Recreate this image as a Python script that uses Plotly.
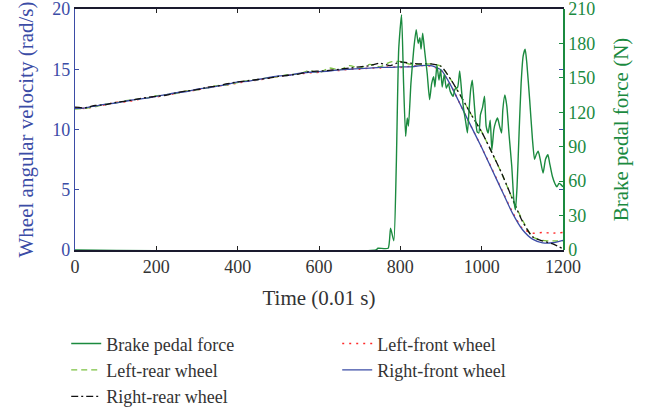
import plotly.graph_objects as go

# ---- data ----
t_wheel = list(range(0, 1201, 25))

right_front = [11.75, 11.8, 11.95, 12.1, 12.2, 12.35, 12.5, 12.6, 12.75, 12.9, 13.05, 13.15, 13.35, 13.45,
               13.6, 13.75, 13.95, 14.0, 14.15, 14.3, 14.45, 14.5, 14.65, 14.75, 14.8, 14.85, 14.95, 15.0,
               15.05, 15.1, 15.15, 15.15, 15.2, 15.2, 15.3, 15.3, 14.95, 13.6, 11.9, 10.2, 8.5, 6.7, 4.9,
               3.1, 1.7, 0.9, 0.6, 0.6, 0.8]
left_front = [11.8, 11.75, 11.9, 12.05, 12.25, 12.3, 12.45, 12.65, 12.7, 12.85, 13.0, 13.2, 13.25, 13.5,
              13.6, 13.7, 13.85, 14.0, 14.1, 14.25, 14.4, 14.5, 14.6, 14.7, 14.75, 14.9, 14.9, 15.0,
              15.0, 15.1, 15.1, 15.2, 15.15, 15.25, 15.3, 15.25, 14.9, 13.6, 11.9, 10.2, 8.5, 6.75, 4.95,
              3.2, 1.8, 1.4, 1.45, 1.4, 1.45]
right_rear = [11.85, 11.8, 12.0, 12.05, 12.25, 12.35, 12.5, 12.65, 12.75, 12.85, 13.05, 13.2, 13.3, 13.5,
              13.6, 13.8, 13.95, 14.05, 14.15, 14.25, 14.4, 14.5, 14.6, 14.8, 14.85, 14.9, 15.0, 15.1,
              15.2, 15.3, 15.5, 15.3, 15.6, 15.5, 15.45, 15.45, 15.25, 14.1, 12.7, 11.2, 9.8, 8.1, 6.3,
              4.3, 2.4, 1.1, 0.75, 0.5, 0.1]
left_rear = [11.7, 11.75, 11.9, 12.1, 12.2, 12.4, 12.5, 12.6, 12.8, 12.9, 13.0, 13.2, 13.3, 13.45,
             13.65, 13.7, 13.9, 14.05, 14.15, 14.3, 14.4, 14.55, 14.6, 14.9, 14.7, 15.1, 14.95, 15.3,
             15.1, 15.4, 15.2, 15.6, 15.65, 15.4, 15.4, 15.45, 15.25, 14.1, 12.7, 11.2, 9.8, 8.1, 6.3,
             4.3, 2.5, 1.1, 0.8, 0.75, 0.75]

t_force = [0, 740, 745, 770, 776, 784, 790, 796, 803, 808, 813, 817, 820, 826, 833, 839, 844, 848, 851,
           855, 859, 866, 872, 877, 882, 885, 890, 895, 899, 903, 908, 913, 918, 923, 930, 934, 941,
           946, 951, 956, 961, 965, 969, 973, 977, 981, 985, 989, 993, 997, 1002, 1007, 1011, 1016,
           1021, 1025, 1030, 1034, 1039, 1044, 1049, 1052, 1057, 1062, 1067, 1074, 1079, 1083, 1087,
           1092, 1097, 1102, 1107, 1111, 1118, 1125, 1130, 1134, 1139, 1144, 1151, 1157, 1163, 1167,
           1174, 1180, 1185, 1190, 1195, 1200]
brake_force = [0, 0, 1.5, 1.5, 19, 8, 73, 175, 205, 145, 99, 115, 108, 145, 175, 192, 180, 185, 175,
               189, 176, 154, 131, 145, 151, 142, 161, 148, 157, 142, 153, 141, 145, 138, 134, 140, 142,
               156, 137, 122, 111, 102, 122, 140, 148, 131, 113, 103, 102, 118, 124, 134, 108, 102,
               113, 87, 105, 111, 115, 108, 102, 122, 135, 125, 102, 73, 44, 35, 55, 102, 145, 169,
               175, 163, 131, 96, 79, 83, 86, 79, 67, 79, 83, 76, 64, 58, 55, 58, 57, 55]

x_ticks = [0, 200, 400, 600, 800, 1000, 1200]
y_ticks = [0, 5, 10, 15, 20]
y2_ticks = [0, 30, 60, 90, 120, 150, 180, 210]

BLUE = "#3b4ca6"
GREEN = "#1b8a3f"
TXT = "#333333"
FONT = "Liberation Serif"
TICK_SIZE = 18
TITLE_SIZE = 21
LEGEND_SIZE = 18

fig = go.Figure()
fig.add_trace(go.Scatter(x=t_wheel, y=left_front, name="Left-front wheel", mode="lines", legendrank=2,
                         line=dict(color="#ff2a2a", width=1.4, dash="2px,5px", shape="spline", smoothing=0.6)))
fig.add_trace(go.Scatter(x=t_wheel, y=left_rear, name="Left-rear wheel", mode="lines", legendrank=3,
                         line=dict(color="#7cc242", width=1.3, dash="6px,4px", shape="spline", smoothing=0.6)))
fig.add_trace(go.Scatter(x=t_wheel, y=right_front, name="Right-front wheel", mode="lines", legendrank=4,
                         line=dict(color=BLUE, width=1.3, shape="spline", smoothing=0.6)))
fig.add_trace(go.Scatter(x=t_wheel, y=right_rear, name="Right-rear wheel", mode="lines", legendrank=5,
                         line=dict(color="#111111", width=1.3, dash="7px,3px,2px,3px", shape="spline", smoothing=0.6)))
fig.add_trace(go.Scatter(x=t_force, y=brake_force, name="Brake pedal force", yaxis="y2", legendrank=1,
                         mode="lines", line=dict(color=GREEN, width=1.4, shape="spline", smoothing=0.5)))

fig.update_layout(
    width=658, height=415,
    margin=dict(l=75, r=95, t=9, b=165, autoexpand=False),
    paper_bgcolor="white", plot_bgcolor="white",
    font=dict(family=FONT, size=TICK_SIZE, color=TXT),
    showlegend=True,
    legend=dict(orientation="h", x=-0.018, y=-0.3125, xanchor="left", yanchor="top",
                entrywidth=226, entrywidthmode="pixels",
                font=dict(family=FONT, size=LEGEND_SIZE, color=TXT),
                bgcolor="rgba(0,0,0,0)", itemwidth=30),
    xaxis=dict(range=[0, 1200], tickvals=x_ticks, ticks="inside", ticklen=4, tickcolor="#222",
               showline=True, linecolor="#1a1a2e", linewidth=1.5, mirror="ticks", showgrid=False,
               zeroline=False, layer="below traces", ticklabeloverflow="allow",
               title=dict(text="Time (0.01 s)", font=dict(size=TITLE_SIZE, color=TXT), standoff=14),
               tickfont=dict(size=TICK_SIZE, color=TXT)),
    yaxis=dict(range=[0, 20], tickvals=y_ticks, ticks="inside", ticklen=4, tickcolor=BLUE,
               showline=True, linecolor=BLUE, linewidth=1.2, mirror="ticks", showgrid=False,
               zeroline=False, layer="below traces", ticklabeloverflow="allow",
               title=dict(text="Wheel angular velocity (rad/s)", font=dict(size=TITLE_SIZE, color=BLUE), standoff=12),
               tickfont=dict(size=TICK_SIZE, color=BLUE)),
    yaxis2=dict(range=[0, 210], tickvals=y2_ticks, ticks="inside", ticklen=4, tickcolor=GREEN,
                overlaying="y", side="right", showline=True, linecolor=GREEN, linewidth=1.5,
                showgrid=False, zeroline=False, ticklabeloverflow="allow",
                title=dict(text="Brake pedal force (N)", font=dict(size=TITLE_SIZE, color=GREEN), standoff=19),
                tickfont=dict(size=TICK_SIZE, color=GREEN)),
)

fig.write_html("out.html", config={"displayModeBar": False},
               post_script="document.body.style.margin='0';")
